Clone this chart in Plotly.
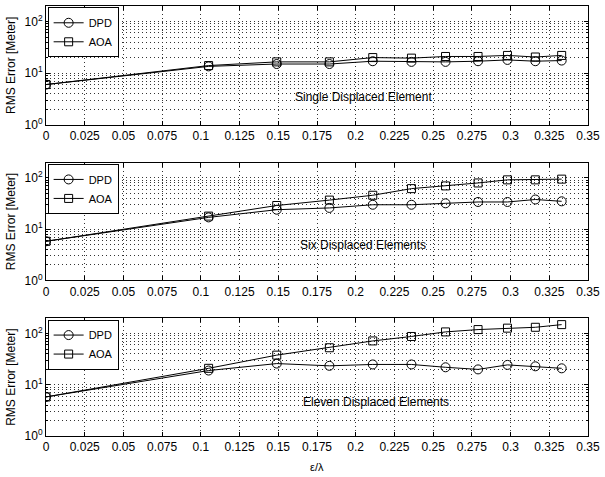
import plotly.graph_objects as go

# x values (epsilon / lambda)
eps = [0, 0.105, 0.149, 0.183, 0.211, 0.236, 0.258, 0.279, 0.298, 0.316, 0.333]

# Panel 1: Single Displaced Element
dpd1 = [6.0, 13.5, 15.0, 15.0, 17.0, 16.5, 16.5, 17.0, 18.0, 17.0, 17.5]
aoa1 = [6.0, 14.0, 16.5, 16.5, 20.0, 19.5, 21.0, 21.0, 22.0, 20.5, 22.0]
# Panel 2: Six Displaced Elements
dpd2 = [5.8, 17.0, 24.0, 26.0, 30.0, 30.0, 32.0, 34.0, 34.0, 38.0, 35.0]
aoa2 = [5.8, 18.0, 29.0, 37.0, 46.0, 62.0, 70.0, 80.0, 92.0, 92.0, 95.0]
# Panel 3: Eleven Displaced Elements
dpd3 = [5.8, 19.0, 26.0, 23.5, 25.0, 25.0, 22.0, 20.0, 24.5, 23.0, 21.0]
aoa3 = [5.8, 21.0, 38.0, 53.0, 72.0, 88.0, 108.0, 120.0, 128.0, 133.0, 150.0]

titles = ["Single Displaced Element", "Six Displaced Elements", "Eleven Displaced Elements"]
label_pos = [(0.205, 0.53), (0.205, 0.69), (0.213, 0.66)]
xticks = [0, 0.025, 0.05, 0.075, 0.1, 0.125, 0.15, 0.175, 0.2, 0.225, 0.25, 0.275, 0.3, 0.325, 0.35]
xticktext = ["0", "0.025", "0.05", "0.075", "0.1", "0.125", "0.15", "0.175", "0.2", "0.225",
             "0.25", "0.275", "0.3", "0.325", "0.35"]
yticks = [1, 10, 100]
yticktext = ["10<sup>0</sup>", "10<sup>1</sup>", "10<sup>2</sup>"]
yminor = [2, 3, 4, 5, 6, 7, 8, 9, 20, 30, 40, 50, 60, 70, 80, 90, 200]

series = [(dpd1, aoa1), (dpd2, aoa2), (dpd3, aoa3)]

H = 477
top_m, bot_m = 5, 41
plot_h = H - top_m - bot_m
def py(pix):
    return (H - bot_m - pix) / plot_h

panels_px = [(5, 124), (162, 280), (318, 436)]

FONT = "Liberation Sans, Arial, sans-serif"
GRID = dict(showgrid=True, gridcolor="#333", griddash="1px,3px", gridwidth=1)
fig = go.Figure()
layout = {}
for i, (d, a) in enumerate(series):
    k = i + 1
    xa = "x" if k == 1 else f"x{k}"
    ya = "y" if k == 1 else f"y{k}"
    lg = "legend" if k == 1 else f"legend{k}"
    fig.add_trace(go.Scatter(x=eps, y=d, mode="lines+markers", name="DPD",
                             xaxis=xa, yaxis=ya, legend=lg,
                             line=dict(color="black", width=1),
                             marker=dict(symbol="circle-open", size=9, color="black",
                                         line=dict(width=1, color="black"))))
    fig.add_trace(go.Scatter(x=eps, y=a, mode="lines+markers", name="AOA",
                             xaxis=xa, yaxis=ya, legend=lg,
                             line=dict(color="black", width=1),
                             marker=dict(symbol="square-open", size=8, color="black",
                                         line=dict(width=1, color="black"))))
    t, b = panels_px[i]
    dom = [py(b), py(t)]
    xkey = "xaxis" if k == 1 else f"xaxis{k}"
    ykey = "yaxis" if k == 1 else f"yaxis{k}"
    layout[xkey] = dict(domain=[0, 1], anchor=ya, range=[0, 0.35],
                        tickvals=xticks, ticktext=xticktext,
                        ticks="inside", ticklen=4, tickcolor="black",
                        showline=True, linecolor="black", linewidth=1, mirror="ticks",
                        zeroline=False, ticklabeloverflow="allow",
                        tickfont=dict(size=12, color="black", family=FONT), **GRID)
    layout[ykey] = dict(domain=dom, anchor=xa, type="log", range=[0, 2.3],
                        tickvals=yticks, ticktext=yticktext,
                        ticks="inside", ticklen=4, tickcolor="black",
                        showline=True, linecolor="black", linewidth=1, mirror="ticks",
                        minor=dict(tickvals=yminor, ticks="inside", ticklen=2,
                                   tickcolor="black", **GRID),
                        zeroline=False, tickfont=dict(size=12, color="black", family=FONT),
                        title=dict(text="RMS Error [Meter]", standoff=6,
                                   font=dict(size=12, color="black", family=FONT)),
                        **GRID)
    layout[lg] = dict(x=0.003, y=dom[1] - 0.003, xanchor="left", yanchor="top",
                      bgcolor="white", bordercolor="black", borderwidth=1,
                      font=dict(size=11, color="black", family=FONT),
                      tracegroupgap=0, itemwidth=30)
    lx, ly = label_pos[i]
    fig.add_annotation(x=lx, y=ly, xref=xa, yref=ya, text=titles[i], showarrow=False,
                       font=dict(size=12, color="black", family=FONT))

fig.add_annotation(x=0.5, y=(436 - 467) / plot_h, xref="paper", yref="paper", text="ε/λ",
                   yanchor="middle", showarrow=False,
                   font=dict(size=11, color="black", family=FONT))

fig.update_layout(width=605, height=477, margin=dict(l=46, r=14, t=top_m, b=bot_m),
                  paper_bgcolor="white", plot_bgcolor="white", showlegend=True,
                  **layout)
fig.write_html("out.html", config={"displayModeBar": False},
               post_script="document.body.style.margin='0';")
